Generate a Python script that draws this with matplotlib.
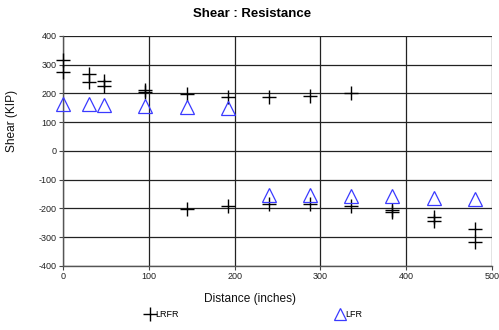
import matplotlib
matplotlib.use("Agg")
import matplotlib.pyplot as plt
from matplotlib.lines import Line2D

plt.rcParams['font.family'] = ['Liberation Sans', 'DejaVu Sans']
plt.rcParams['axes.unicode_minus'] = False

# LRFR points (two values at several stations)
lrfr_x = [0, 0, 30, 30, 48, 48, 96, 96, 144, 192, 240, 288, 336,
          144, 192, 240, 288, 336, 384, 384, 432, 432, 480, 480]
lrfr_y = [316, 274, 267, 241, 243, 227, 213, 206, 198, 189, 189, 191, 200,
          -202, -190, -185, -185, -192, -205, -213, -228, -242, -271, -315]

# LFR points
lfr_x = [0, 30, 48, 96, 144, 192, 240, 288, 336, 384, 432, 480]
lfr_y = [165, 163, 161, 155, 152, 151, -152, -153, -155, -156, -162, -167]

x_ticks = [0, 100, 200, 300, 400, 500]
y_ticks = [-400, -300, -200, -100, 0, 100, 200, 300, 400]

fig = plt.figure(figsize=(4.99, 3.30), dpi=100)
ax = fig.add_axes([0.1263, 0.194, 0.986 - 0.1263, 0.891 - 0.194])

ax.set_xlim(0, 500)
ax.set_ylim(-400, 400)
ax.set_xticks(x_ticks)
ax.set_yticks(y_ticks)
ax.grid(True, color='#222222', linewidth=0.9)
ax.set_axisbelow(True)

for s in ['top', 'right']:
    ax.spines[s].set_visible(False)
for s in ['left', 'bottom']:
    ax.spines[s].set_color('#555555')
    ax.spines[s].set_linewidth(1.0)

ax.tick_params(axis='both', labelsize=6.5, length=3, width=0.8,
               color='#444444', labelcolor='#222222', pad=1.5)

ax.plot(lrfr_x, lrfr_y, linestyle='none', marker='+', markersize=10,
        markeredgewidth=1.0, color='black', clip_on=False, zorder=3)
ax.plot(lfr_x, lfr_y, linestyle='none', marker='^', markersize=10,
        markerfacecolor='none', markeredgecolor='#3a3aff',
        markeredgewidth=0.9, clip_on=False, zorder=3)

fig.text(0.505, 0.958, 'Shear : Resistance', ha='center', va='center',
         fontsize=9.5, fontweight='bold')
fig.text(0.501, 0.094, 'Distance (inches)', ha='center', va='center',
         fontsize=8.6, color='#111111')
fig.text(0.024, 0.633, 'Shear (KIP)', ha='center', va='center',
         rotation=90, fontsize=8.6, color='#111111')

h1 = Line2D([], [], linestyle='none', marker='+', markersize=10,
            markeredgewidth=1.0, color='black')
h2 = Line2D([], [], linestyle='none', marker='^', markersize=9,
            markerfacecolor='none', markeredgecolor='#3a3aff',
            markeredgewidth=0.9)
fig.legend([h1], ['LRFR'], loc='center left',
           bbox_to_anchor=(0.292, 0.046), frameon=False,
           fontsize=6.5, handlelength=1.0, handletextpad=0.1,
           borderpad=0, borderaxespad=0)
fig.legend([h2], ['LFR'], loc='center left',
           bbox_to_anchor=(0.672, 0.046), frameon=False,
           fontsize=6.5, handlelength=1.0, handletextpad=0.1,
           borderpad=0, borderaxespad=0)

fig.savefig('out.png', dpi=100)
